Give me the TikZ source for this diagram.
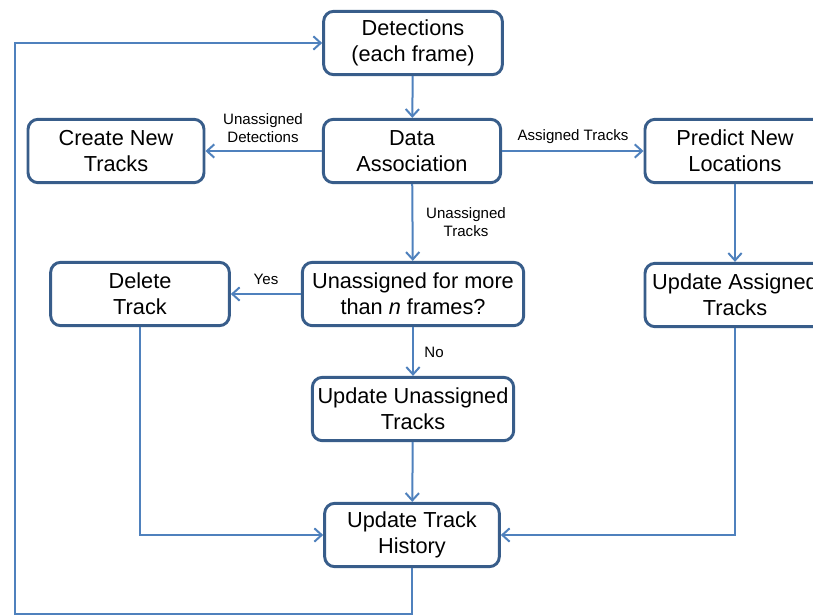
\documentclass[tikz,border=0pt]{standalone}
\usepackage{fontspec}
\setmainfont{Liberation Sans}
\usetikzlibrary{arrows.meta}
\definecolor{boxline}{RGB}{56,93,138}
\definecolor{flow}{RGB}{79,129,189}
\tikzset{
  stage/.style={draw=boxline, line width=2.2pt, rounded corners=7.5pt, fill=white,
    align=center, minimum height=47.5pt, inner sep=2pt,
    font=\fontsize{16.3}{19.5}\selectfont},
  flowarrow/.style={draw=flow, line width=1.5pt,
    -{Straight Barb[length=5.5pt,width=10pt,line width=1.5pt]}},
  tag/.style={font=\fontsize{11.3}{14}\selectfont, align=center, inner sep=0pt}
}
\begin{document}
\begin{tikzpicture}[x=0.75pt,y=-0.75pt]
\useasboundingbox (0,0) rectangle (813,615);
\clip (0,0) rectangle (813,615);

\node[stage, minimum width=134pt] (det) at (413,43) {Detections\\(each frame)};
\node[stage, minimum width=133pt] (assoc) at (412,151) {Data\\Association};
\node[stage, minimum width=132pt] (create) at (116,151) {Create New\\Tracks};
\node[stage, minimum width=135pt] (predict) at (735,151) {Predict New\\Locations};
\node[stage, minimum width=135pt] (updassigned) at (735,295) {Update Assigned\\Tracks};
\node[stage, minimum width=166pt] (unassigned) at (413,294) {Unassigned for more\\than \textit{n} frames?};
\node[stage, minimum width=134pt] (delete) at (140,294) {Delete\\Track};
\node[stage, minimum width=151pt] (updunassigned) at (413,409) {Update Unassigned\\Tracks};
\node[stage, minimum width=131pt] (history) at (412,535) {Update Track\\History};
\coordinate (loopcorner) at (15,614);

\draw[flowarrow] (det) -- (assoc);
\draw[flowarrow] (assoc) -- (create);
\draw[flowarrow] (assoc) -- (predict);
\draw[flowarrow] (assoc) -- (unassigned);
\draw[flowarrow] (predict) -- (updassigned);
\draw[flowarrow] (unassigned) -- (delete);
\draw[flowarrow] (unassigned) -- (updunassigned);
\draw[flowarrow] (updunassigned) -- (history);
\draw[flowarrow] (delete) |- (history);
\draw[flowarrow] (updassigned) |- (history);
\draw[flowarrow] (history) |- (loopcorner) |- (det);

\node[tag] (tagnew) at (263,128) {Unassigned\\Detections};
\node[tag] (tagassigned) at (573,137) {Assigned Tracks};
\node[tag] (taglost) at (466,222) {Unassigned\\Tracks};
\node[tag] (tagyes) at (266,279) {Yes};
\node[tag] (tagno) at (434,352) {No};
\end{tikzpicture}
\end{document}
